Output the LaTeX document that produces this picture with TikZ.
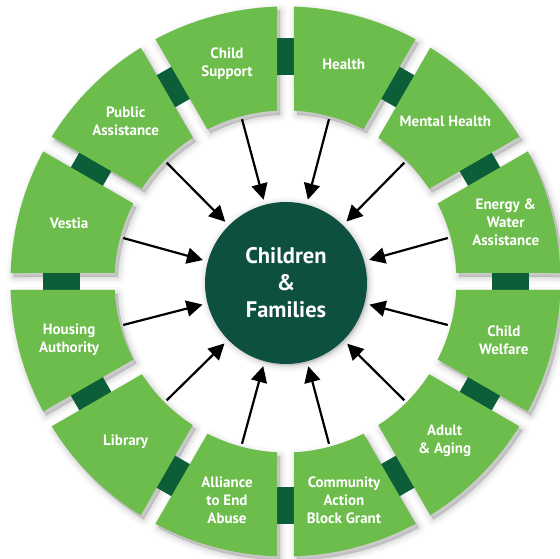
\documentclass[tikz,border=0pt]{standalone}
\usepackage{fontspec}
\setmainfont{PT Sans}
\usetikzlibrary{arrows.meta}
\definecolor{lgreen}{HTML}{6CBD4B}
\definecolor{hubgreen}{HTML}{0E5040}
\definecolor{linkgreen}{HTML}{0B5E38}
\begin{document}
\begin{tikzpicture}[x=1pt,y=1pt,
  segfill/.style={fill=lgreen},
  lbl/.style={text=white,font=\bfseries\fontsize{15}{18}\selectfont,align=center,inner sep=0pt},
  arr/.style={line width=2.2pt,-{Triangle[length=16pt,width=16pt]},shorten >=5pt},
  linkbox/.style={fill=linkgreen},
  hub/.style={circle,fill=hubgreen,minimum size=162pt,inner sep=0pt,text=white,
    font=\bfseries\fontsize{22.5}{27}\selectfont,align=center}]
\useasboundingbox (0,0) rectangle (560,559);
\begin{scope}[shift={(285.5,277.5)}]
% soft shadows
\foreach \k in {0,...,11}{
  \pgfmathsetmacro\a{30*\k+1.771}
  \pgfmathsetmacro\b{30*\k+30-1.771}
  \pgfmathsetmacro\ai{30*\k+2.849}
  \pgfmathsetmacro\bi{30*\k+30-2.849}
  \foreach \w/\o in {14/0.025,9/0.035,5/0.045,1/0.06}{
    \filldraw[black,opacity=\o,line width=\w pt,line join=round,shift={(3,-4)}]
      (\a:275pt) arc[start angle=\a,end angle=\b,radius=275pt]
      -- (\bi:171pt) arc[start angle=\bi,end angle=\ai,radius=171pt] -- cycle;
  }
}
\foreach \w/\o in {12/0.03,7/0.04,3/0.05}{
  \filldraw[black,opacity=\o,line width=\w pt,shift={(2,-3)}] (0,0) circle[radius=81pt];
}
% links between segments
\foreach \k in {0,...,11}{
  \fill[linkbox,rotate=30*\k] (206,-9) rectangle (243,9);
}
% segments
\foreach \k in {0,...,11}{
  \pgfmathsetmacro\a{30*\k+1.771}
  \pgfmathsetmacro\b{30*\k+30-1.771}
  \pgfmathsetmacro\ai{30*\k+2.849}
  \pgfmathsetmacro\bi{30*\k+30-2.849}
  \fill[segfill]
    (\a:275pt) arc[start angle=\a,end angle=\b,radius=275pt]
    -- (\bi:171pt) arc[start angle=\bi,end angle=\ai,radius=171pt] -- cycle;
  \pgfmathsetmacro\c{30*\k+15}
  \coordinate (e\k) at (\c:168pt);
}
% labels
\node[lbl] (s0)  at (15:228pt)  {Energy \&\\Water\\Assistance};
\node[lbl] (s1)  at (45:226pt)  {Mental Health};
\node[lbl] (s2)  at (75:225pt)  {Health};
\node[lbl] (s3)  at (105:226pt) {Child\\Support};
\node[lbl] (s4)  at (135:226pt) {Public\\Assistance};
\node[lbl] (s5)  at (165:224pt) {Vestia};
\node[lbl] (s6)  at (195:224pt) {Housing\\Authority};
\node[lbl] (s7)  at (225:226pt) {Library};
\node[lbl] (s8)  at (255:226pt) {Alliance\\to End\\Abuse};
\node[lbl] (s9)  at (285:226pt) {Community\\Action\\Block Grant};
\node[lbl] (s10) at (315:225pt) {Adult\\\& Aging};
\node[lbl] (s11) at (345:226pt) {Child\\Welfare};
% hub
\node[hub] (hubc) at (0.5,-1.5) {Children\\\&\\Families};
% arrows
\foreach \k in {0,...,11}{
  \draw[arr] (e\k) -- (hubc);
}
\end{scope}
\end{tikzpicture}
\end{document}
